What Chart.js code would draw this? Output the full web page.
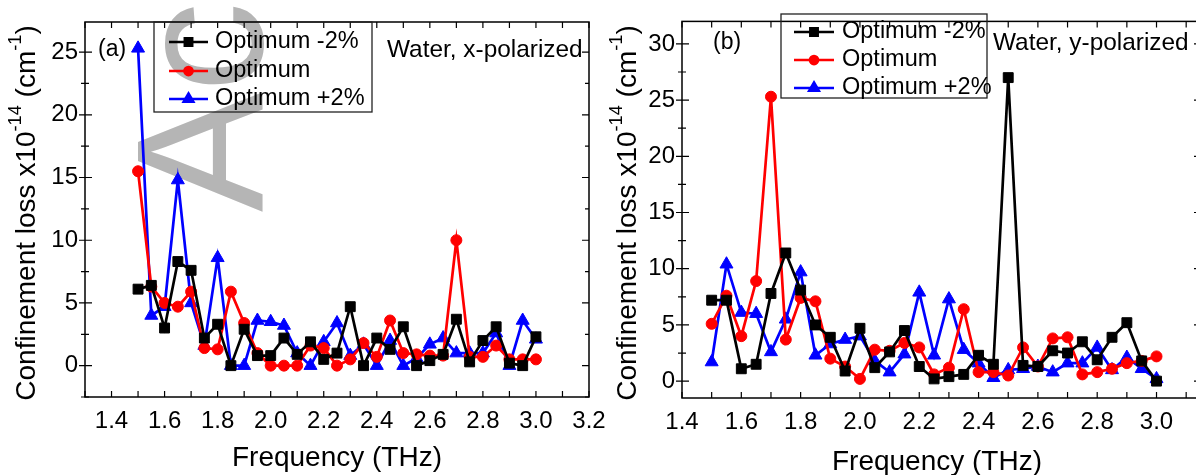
<!DOCTYPE html>
<html>
<head>
<meta charset="utf-8">
<script src="https://cdn.jsdelivr.net/npm/chart.js@4.4.0/dist/chart.umd.min.js"></script>
<style>
  html, body { margin: 0; padding: 0; background: #fff; overflow: hidden; }
  body { width: 1196px; height: 475px; position: relative; }
  canvas { position: absolute; top: 0; }
  #chartA { left: 0; }
  #chartB { left: 590px; }
</style>
</head>
<body>
<canvas id="chartA" width="620" height="475"></canvas>
<canvas id="chartB" width="640" height="475"></canvas>
<script>
// frequency (THz) of every sample, shared by both panels
const freq = [1.5, 1.55, 1.6, 1.65, 1.7, 1.75, 1.8, 1.85, 1.9, 1.95, 2.0, 2.05, 2.1, 2.15, 2.2, 2.25,
  2.3, 2.35, 2.4, 2.45, 2.5, 2.55, 2.6, 2.65, 2.7, 2.75, 2.8, 2.85, 2.9, 2.95, 3.0];

// (a) water, x-polarized
const xPolMinus = [6.1, 6.4, 3.0, 8.3, 7.6, 2.2, 3.3, 0, 2.9, 0.8, 0.8, 2.2, 0.9, 1.9, 0.5, 1.0,
  4.7, 0, 2.2, 1.3, 3.1, 0, 0.4, 0.9, 3.7, 0.3, 2.0, 3.1, 0.2, 0.0, 2.3];
const xPolOpt = [15.5, 6.3, 5.0, 4.7, 5.9, 1.4, 1.3, 5.9, 3.4, 1.0, 0, 0, 0, 1.6, 1.4, 0,
  0.5, 1.8, 0.7, 3.6, 1.0, 0.9, 0.8, 0.8, 10.0, 0.7, 0.7, 1.6, 0.5, 0.5, 0.5];
const xPolPlus = [25.3, 4.0, 4.7, 14.8, 5.0, 1.6, 8.6, 0, 0, 3.6, 3.5, 3.2, 1.0, 0, 1.9, 3.4,
  0.8, 1.7, 0, 2.0, 0, 0.6, 1.7, 2.2, 1.0, 1.0, 1.0, 2.6, 0, 3.6, 2.1];

// (b) water, y-polarized
const yPolMinus = [7.2, 7.2, 1.1, 1.5, 7.8, 11.4, 8.1, 5.0, 3.9, 0.9, 4.7, 1.2, 2.6, 4.5, 1.3, 0.2,
  0.4, 0.6, 2.3, 1.5, 27.0, 1.4, 1.3, 2.7, 2.5, 3.5, 1.9, 3.9, 5.2, 1.8, 0.0];
const yPolOpt = [5.1, 7.6, 4.0, 8.9, 25.3, 3.7, 7.4, 7.1, 2.0, 1.3, 0.2, 2.8, 2.7, 3.4, 3.0, 0.6,
  1.2, 6.4, 0.8, 0.8, 0.5, 3.0, 1.3, 3.8, 3.9, 0.6, 0.8, 1.1, 1.6, 1.8, 2.2];
const yPolPlus = [1.7, 10.4, 6.1, 6.0, 2.6, 5.5, 9.7, 2.3, 3.3, 3.7, 4.0, 1.8, 0.8, 2.4, 7.9, 2.3,
  7.3, 2.8, 1.6, 0.3, 1.0, 1.1, 1.3, 0.8, 1.6, 1.6, 3.0, 1.0, 2.1, 1.1, 0.2];

const seriesNames = ["Optimum -2%", "Optimum", "Optimum +2%"];
const xTicksA = [1.4, 1.6, 1.8, 2.0, 2.2, 2.4, 2.6, 2.8, 3.0, 3.2];
const xTicksB = [1.4, 1.6, 1.8, 2.0, 2.2, 2.4, 2.6, 2.8, 3.0];
const yTicksA = [0, 5, 10, 15, 20, 25];
const yTicksB = [0, 5, 10, 15, 20, 25, 30];

const FONT = '"Liberation Sans", Arial, Helvetica, sans-serif';

function series(label, values, color, style, radius) {
  return {
    label: label,
    data: freq.map((f, i) => ({ x: f, y: values[i] })),
    borderColor: color,
    backgroundColor: color,
    borderWidth: 2.7,
    pointStyle: style,
    pointRadius: radius,
    pointBorderWidth: 1,
    pointBackgroundColor: color,
    pointBorderColor: color,
    tension: 0
  };
}

// title text with raised exponents, optionally rotated
function drawParts(ctx, parts, cx, cy, size, rotate) {
  ctx.save();
  ctx.translate(cx, cy);
  if (rotate) ctx.rotate(-Math.PI / 2);
  let total = 0;
  parts.forEach(p => {
    ctx.font = (p.sup ? size * 0.65 : size) + 'px ' + FONT;
    total += ctx.measureText(p.t).width;
  });
  let x = -total / 2;
  ctx.fillStyle = '#000';
  ctx.textBaseline = 'middle';
  ctx.textAlign = 'left';
  parts.forEach(p => {
    ctx.font = (p.sup ? size * 0.65 : size) + 'px ' + FONT;
    ctx.fillText(p.t, x, p.sup ? -size * 0.38 : 0);
    x += ctx.measureText(p.t).width;
  });
  ctx.restore();
}

const decoPlugin = {
  id: 'panelDeco',
  beforeDatasetsDraw(chart, args, o) {
    if (!o.watermark) return;
    const ctx = chart.ctx;
    ctx.save();
    ctx.translate(o.watermark.x, o.watermark.y);
    ctx.rotate(-Math.PI / 2);
    ctx.font = '180px ' + FONT;
    ctx.fillStyle = '#b5b5b5';
    ctx.textBaseline = 'alphabetic';
    ctx.fillText(o.watermark.text, 0, 0);
    ctx.restore();
  },
  afterDatasetsDraw(chart, args, o) {
    const ctx = chart.ctx, a = chart.chartArea, x = chart.scales.x, y = chart.scales.y;
    ctx.save();
    ctx.strokeStyle = '#000';
    ctx.lineWidth = 1.5;
    ctx.strokeRect(a.left, a.top, a.right - a.left, a.bottom - a.top);
    ctx.lineWidth = 1.2;
    ctx.beginPath();
    // top and bottom ticks every 0.1, pointing inward
    for (let k = Math.ceil(x.min * 10 - 1e-6); k <= Math.floor(x.max * 10 + 1e-6); k++) {
      const px = x.getPixelForValue(k / 10);
      ctx.moveTo(px, a.bottom); ctx.lineTo(px, a.bottom - 6);
      ctx.moveTo(px, a.top); ctx.lineTo(px, a.top + 6);
    }
    // left ticks cross the axis, right ticks inward
    for (let k = Math.ceil(y.min / 2.5 - 1e-6); k <= Math.floor(y.max / 2.5 + 1e-6); k++) {
      const py = y.getPixelForValue(k * 2.5);
      const major = k % 2 === 0;
      ctx.moveTo(a.left - (major ? 6 : 4), py); ctx.lineTo(a.left + (major ? 7 : 4), py);
      ctx.moveTo(a.right, py); ctx.lineTo(a.right - (major ? 7 : 4), py);
    }
    ctx.stroke();
    ctx.restore();
  },
  afterDraw(chart, args, o) {
    const ctx = chart.ctx;
    ctx.save();
    // legend box
    const L = o.legend;
    ctx.strokeStyle = '#222';
    ctx.lineWidth = 1.3;
    ctx.strokeRect(L.x1, L.y1, L.x2 - L.x1, L.y2 - L.y1);
    chart.data.datasets.forEach((ds, i) => {
      const ry = L.rows[i];
      ctx.strokeStyle = ds.borderColor;
      ctx.fillStyle = ds.borderColor;
      ctx.lineWidth = 2.5;
      ctx.beginPath();
      ctx.moveTo(L.lx1, ry); ctx.lineTo(L.lx2, ry);
      ctx.stroke();
      Chart.helpers.drawPoint(ctx, {
        pointStyle: ds.pointStyle, radius: ds.pointRadius * 0.75, rotation: 0, borderWidth: 1
      }, (L.lx1 + L.lx2) / 2, ry);
      ctx.fillStyle = '#000';
      ctx.font = '23.5px ' + FONT;
      ctx.textBaseline = 'middle';
      ctx.textAlign = 'left';
      ctx.fillText(ds.label, L.tx, ry);
    });
    // panel tag and annotation
    ctx.fillStyle = '#000';
    ctx.textBaseline = 'middle';
    ctx.textAlign = 'left';
    ctx.font = '23px ' + FONT;
    ctx.fillText(o.tag.text, o.tag.x, o.tag.y);
    ctx.font = '24.4px ' + FONT;
    ctx.fillText(o.note.text, o.note.x, o.note.y);
    ctx.restore();
    // axis titles
    drawParts(ctx, [{ t: 'Confinement loss x10' }, { t: '-14', sup: true }, { t: ' (cm' }, { t: '-1', sup: true }, { t: ')' }],
      o.yTitle.x, o.yTitle.y, 28, true);
    drawParts(ctx, [{ t: 'Frequency (THz)' }], o.xTitle.x, o.xTitle.y, 28, false);
  }
};

function makeChart(id, p) {
  return new Chart(document.getElementById(id), {
    type: 'line',
    data: {
      datasets: [
        series(seriesNames[0], p.minus, '#000000', 'rect', 7),
        series(seriesNames[1], p.opt, '#ff0000', 'circle', 5.5),
        series(seriesNames[2], p.plus, '#0000ff', 'triangle', 7.5)
      ]
    },
    options: {
      responsive: false,
      animation: false,
      layout: { padding: { top: p.top, right: p.padRight, left: 0, bottom: 0 } },
      plugins: {
        legend: { display: false },
        tooltip: { enabled: false },
        panelDeco: p.deco
      },
      scales: {
        x: {
          type: 'linear', min: p.xMin, max: p.xMax,
          afterBuildTicks: s => { s.ticks = p.xTicks.map(v => ({ value: v })); },
          afterFit: s => { s.height = p.xHeight; },
          grid: { display: false, drawTicks: false },
          border: { display: false },
          ticks: {
            color: '#000', padding: 10, maxRotation: 0, autoSkip: false,
            font: { family: FONT, size: 24 },
            callback: v => Number(v).toFixed(1)
          }
        },
        y: {
          type: 'linear', min: p.yMin, max: p.yMax,
          afterBuildTicks: s => { s.ticks = p.yTicks.map(v => ({ value: v })); },
          afterFit: s => { s.width = p.yWidth; },
          grid: { display: false, drawTicks: false },
          border: { display: false },
          ticks: {
            color: '#000', padding: p.yPad, autoSkip: false,
            font: { family: FONT, size: 24 },
            callback: v => String(v)
          }
        }
      }
    },
    plugins: [decoPlugin]
  });
}

makeChart('chartA', {
  minus: xPolMinus, opt: xPolOpt, plus: xPolPlus,
  xMin: 1.3, xMax: 3.2, yMin: -2.5, yMax: 27.4,
  xTicks: xTicksA, yTicks: yTicksA,
  top: 22, padRight: 31, yWidth: 85, xHeight: 78, yPad: 7,
  deco: {
    watermark: { text: 'Accepted Manuscript', x: 262, y: 212 },
    legend: { x1: 154, y1: 22, x2: 372, y2: 112, rows: [42, 71, 99], lx1: 169, lx2: 208, tx: 215 },
    tag: { text: '(a)', x: 98, y: 50 },
    note: { text: 'Water, x-polarized', x: 387, y: 50 },
    yTitle: { x: 27, y: 213 },
    xTitle: { x: 337, y: 458 }
  }
});

makeChart('chartB', {
  minus: yPolMinus, opt: yPolOpt, plus: yPolPlus,
  xMin: 1.4, xMax: 3.15, yMin: -1.5, yMax: 32,
  xTicks: xTicksB, yTicks: yTicksB,
  top: 14, padRight: 29, yWidth: 92, xHeight: 77, yPad: 7,
  deco: {
    legend: { x1: 191, y1: 14, x2: 397, y2: 98, rows: [32, 60, 88], lx1: 204, lx2: 244, tx: 252 },
    tag: { text: '(b)', x: 123, y: 43 },
    note: { text: 'Water, y-polarized', x: 403, y: 43 },
    yTitle: { x: 38, y: 213 },
    xTitle: { x: 347, y: 462 }
  }
});
</script>
</body>
</html>
